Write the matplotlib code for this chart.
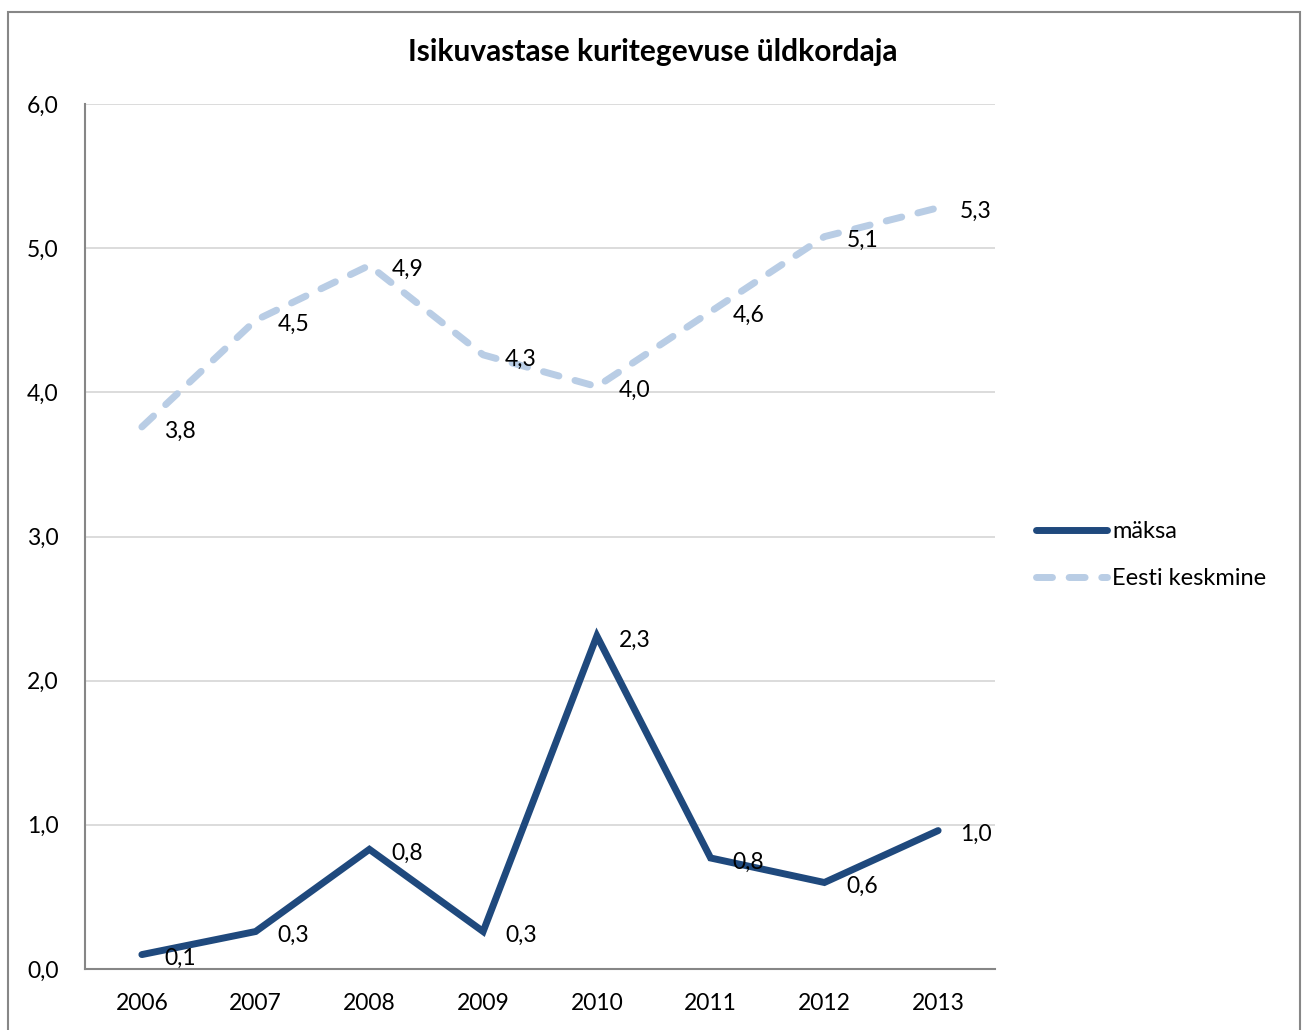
import matplotlib.pyplot as plt
from matplotlib.patches import Rectangle

plt.rcParams['font.family'] = ['Lato', 'DejaVu Sans']

years = ['2006', '2007', '2008', '2009', '2010', '2011', '2012', '2013']
maksa = [0.10, 0.26, 0.83, 0.26, 2.31, 0.77, 0.60, 0.96]
eesti = [3.76, 4.50, 4.88, 4.26, 4.04, 4.56, 5.08, 5.28]
yticks = [0, 1, 2, 3, 4, 5, 6]

dark_blue = '#1f497d'
light_blue = '#b9cde5'

fig = plt.figure(figsize=(13.06, 10.30), dpi=100)
ax = fig.add_axes([85 / 1306, 61 / 1030, 910 / 1306, 865 / 1030])

# outer chart frame
fig.patches.append(Rectangle((8 / 1306, -0.02), 1292 / 1306, 1.02 - 12 / 1030,
                             transform=fig.transFigure, fill=False,
                             edgecolor='#878787', linewidth=1.5))

x = range(len(years))
ax.plot(x, maksa, color=dark_blue, linewidth=5, solid_capstyle='round',
        solid_joinstyle='miter', label='mäksa', zorder=3)
ax.plot(x, eesti, color=light_blue, linewidth=5, linestyle=(0, (2.3, 2.4)),
        dash_capstyle='round', label='Eesti keskmine', zorder=3)

for series in (maksa, eesti):
    for i, v in enumerate(series):
        ax.annotate(f'{v:.1f}'.replace('.', ','), (i, v), xytext=(22, -4),
                    textcoords='offset pixels', ha='left', va='center',
                    fontsize=16.5, color='black', zorder=4)

ax.set_xlim(-0.5, len(years) - 0.5)
ax.set_ylim(0, 6)
ax.set_xticks(list(x))
ax.set_xticklabels(years)
ax.set_yticks(yticks)
ax.set_yticklabels([f'{t:.1f}'.replace('.', ',') for t in yticks])
ax.tick_params(length=0, labelsize=16.5, colors='black')
ax.tick_params(axis='x', pad=17)
ax.tick_params(axis='y', pad=19)

ax.grid(axis='y', color='#d9d9d9', linewidth=1.3)
ax.set_axisbelow(True)
for side in ('top', 'right'):
    ax.spines[side].set_visible(False)
for side in ('left', 'bottom'):
    ax.spines[side].set_color('#868686')
    ax.spines[side].set_linewidth(1.5)

fig.text(0.5, 1 - 52 / 1030, 'Isikuvastase kuritegevuse üldkordaja',
         ha='center', va='center', fontsize=21.5, fontweight='bold')

fig.legend(loc='center left', bbox_to_anchor=(1036 / 1306, 1 - 555 / 1030),
           frameon=False, fontsize=17, handlelength=3.0, handletextpad=0.22,
           labelspacing=1.1, borderpad=0, borderaxespad=0)

fig.savefig('out.png', dpi=100)
